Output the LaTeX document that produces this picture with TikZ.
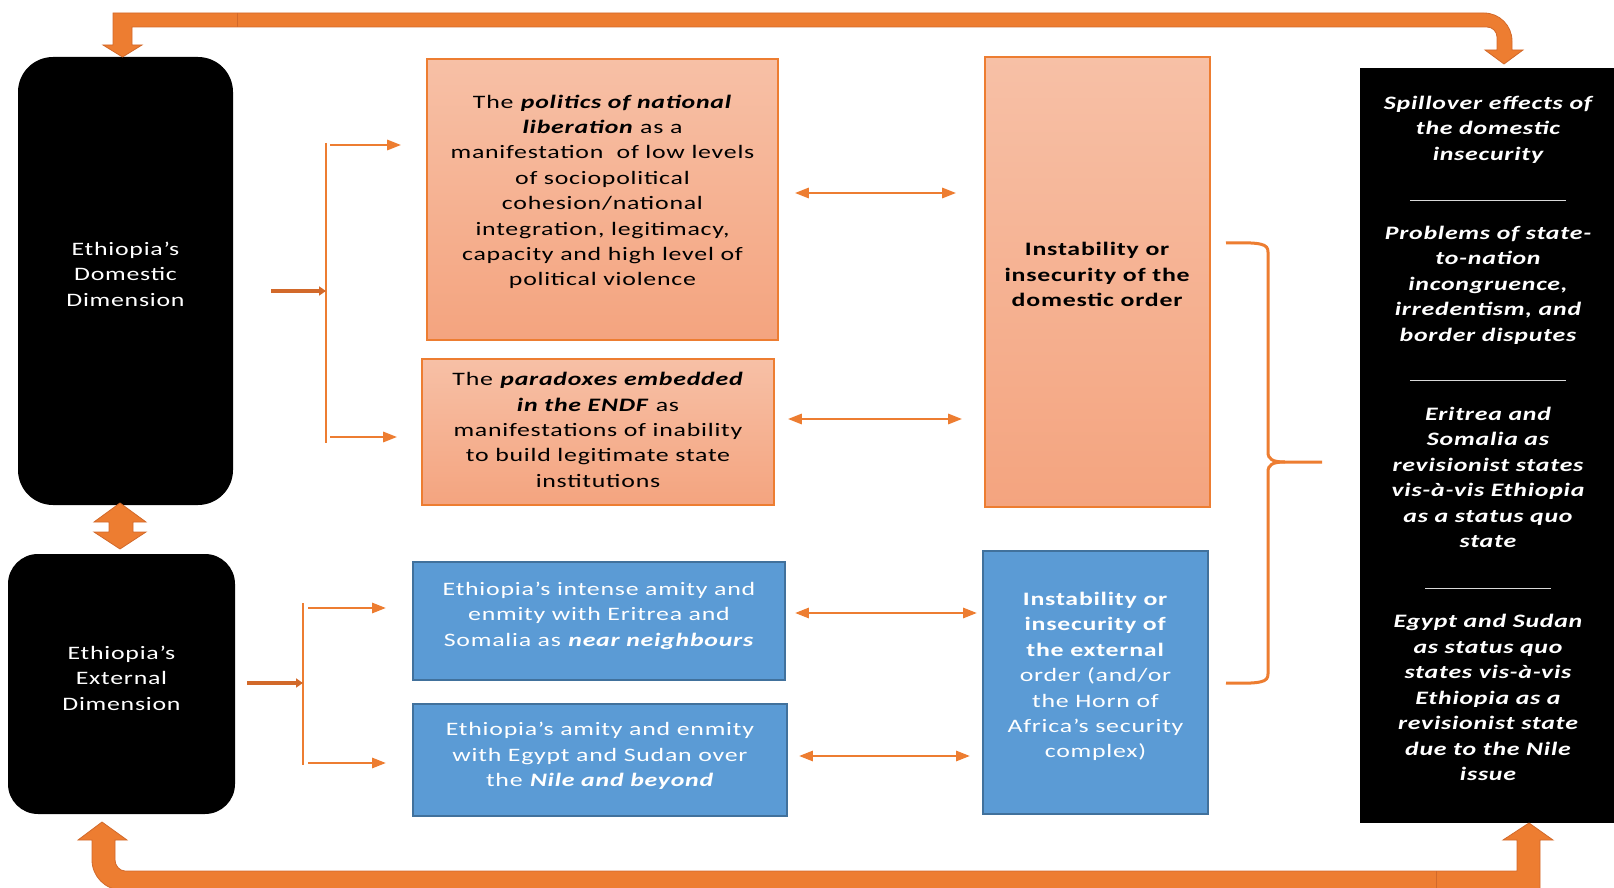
\documentclass[tikz,border=0pt]{standalone}
\usepackage{fontspec}
\setmainfont{Carlito}[FakeStretch=1.36,LetterSpace=4]
\usetikzlibrary{arrows.meta,calc}
\definecolor{orng}{HTML}{ED7D31}
\definecolor{orngD}{HTML}{D2692A}
\definecolor{pinkT}{HTML}{F7C0A6}
\definecolor{pinkB}{HTML}{F4A47F}
\definecolor{blueF}{HTML}{5B9BD5}
\definecolor{blueD}{HTML}{41719C}
\tikzset{
  txt/.style={font=\fontsize{9.5pt}{12.7pt}\selectfont, align=center, inner sep=0pt},
  pinkbox/.style={draw=orng, line width=0.8pt, top color=pinkT, bottom color=pinkB, inner sep=0pt},
  bluebox/.style={draw=blueD, line width=0.9pt, fill=blueF, inner sep=0pt},
  blackbox/.style={fill=black, inner sep=0pt},
  wtxt/.style={txt, text=white},
  thinarrow/.style={draw=orng, line width=1.35pt, -{Triangle[length=7pt,width=5pt]}},
  dblarrow/.style={draw=orng, line width=1.35pt, {Triangle[length=7pt,width=5pt]}-{Triangle[length=7pt,width=5pt]}},
  inarrow/.style={draw=orngD, line width=2pt, -{Triangle[length=3.5pt,width=4.5pt]}},
  bracketline/.style={draw=orng, line width=1.35pt},
  bigarrow/.style={fill=orng, draw=orngD, line width=0.4pt}
}
\newcommand{\bfi}[1]{\textbf{\textit{#1}}}
\begin{document}
\begin{tikzpicture}[x=0.5pt,y=-0.5pt]
\useasboundingbox (0,0) rectangle (1614,888);

% left black boxes
\node[blackbox, rounded corners=17.5pt, minimum width=107.5pt, minimum height=224pt] (d1) at (125.5,281) {};
\node[wtxt] (d1t) at ([yshift=3.5pt]d1.center) {Ethiopia’s\\Domestic\\Dimension};
\node[blackbox, rounded corners=15pt, minimum width=113.5pt, minimum height=130pt] (d2) at (121.5,684) {};
\node[wtxt] (d2t) at ([yshift=3pt]d2.center) {Ethiopia’s\\External\\Dimension};

% middle boxes
\node[pinkbox, minimum width=175.5pt, minimum height=140.5pt] (p1) at (602.5,199.5) {};
\node[txt] (p1t) at ([yshift=3.8pt]p1.center)
  {The \bfi{politics of national}\\ \bfi{liberation} as a\\ manifestation\ \ of low levels\\ of sociopolitical\\ cohesion/national\\ integration,\ legitimacy,\\ capacity\ and high level of\\ political\ violence};
\node[pinkbox, minimum width=176pt, minimum height=73pt] (p2) at (598,432) {};
\node[txt] (p2t) at ([yshift=1pt]p2.center)
  {The \bfi{paradoxes embedded}\\ \bfi{in the ENDF} as\\ manifestations of inability\\ to build legitimate state\\ institutions};
\node[bluebox, minimum width=186pt, minimum height=59pt] (b1) at (599,621) {};
\node[wtxt] (b1t) at ([yshift=2.6pt]b1.center)
  {Ethiopia’s intense amity and\\ enmity with Eritrea and\\ Somalia as \bfi{near neighbours}};
\node[bluebox, minimum width=187pt, minimum height=56pt] (b2) at (600,760) {};
\node[wtxt] (b2t) at ([yshift=2pt]b2.center)
  {Ethiopia’s amity and enmity\\ with Egypt and Sudan over\\ the \bfi{Nile and beyond}};

% tall boxes
\node[pinkbox, minimum width=112.5pt, minimum height=225pt] (t1) at (1097.5,282) {};
\node[txt] (t1t) at ([yshift=3.6pt]t1.center)
  {\textbf{Instability or}\\ \textbf{insecurity of the}\\ \textbf{domestic order}};
\node[bluebox, minimum width=112.5pt, minimum height=131.5pt] (t2) at (1095.5,682.5) {};
\node[wtxt] (t2t) at ([yshift=3pt]t2.center)
  {\textbf{Instability or}\\ \textbf{insecurity of}\\ \textbf{the external}\\ order (and/or\\ the Horn of\\ Africa’s security\\ complex)};

% right black box
\node[blackbox, minimum width=128pt, minimum height=377.5pt] (r) at (1488,445.5) {};
\node[wtxt, font=\fontsize{9.5pt}{12.75pt}\selectfont\bfseries\itshape] (rt) at ([yshift=3.6pt]r.center)
  {Spillover effects of\\ the domestic\\ insecurity\\[7.6pt]
   {\color{white!85!black}\rule{78pt}{0.5pt}}\\[6.6pt]
   Problems of state-\\ to-nation\\ incongruence,\\ irredentism, and\\ border disputes\\[7.2pt]
   {\color{white!85!black}\rule{78pt}{0.5pt}}\\[6.6pt]
   Eritrea and\\ Somalia as\\ revisionist states\\ vis-à-vis Ethiopia\\ as a status quo\\ state\\[8pt]
   {\color{white!85!black}\rule{63pt}{0.5pt}}\\[6.6pt]
   Egypt and Sudan\\ as status quo\\ states vis-à-vis\\ Ethiopia as a\\ revisionist state\\ due to the Nile\\ issue};

% left bracket group 1
\coordinate (k1t) at (326,143);
\coordinate (k1b) at (326,443);
\coordinate (k1m) at (326,291);
\coordinate (a1) at (330,145);
\coordinate (a2) at (330,437);
\draw[bracketline] (k1t) -- (k1b);
\draw[inarrow, shorten <=19pt] ([yshift=-5pt]d1.east) -- (k1m);
\draw[thinarrow, shorten >=12.5pt] (a1) -- (a1 -| p1.west);
\draw[thinarrow, shorten >=12pt] (a2) -- (a2 -| p2.west);

% left bracket group 2
\coordinate (k2t) at (303,603);
\coordinate (k2b) at (303,765);
\coordinate (k2m) at (303,683);
\coordinate (a3) at (308,608);
\coordinate (a4) at (308,763);
\draw[bracketline] (k2t) -- (k2b);
\draw[inarrow, shorten <=6pt] ([yshift=0.5pt]d2.east) -- (k2m);
\draw[thinarrow, shorten >=13pt] (a3) -- (a3 -| b1.west);
\draw[thinarrow, shorten >=13pt] (a4) -- (a4 -| b2.west);

% double arrows between columns
\draw[dblarrow, shorten <=8pt, shorten >=14pt] ([yshift=3.25pt]p1.east) -- ([yshift=3.25pt]p1.east -| t1.west);
\draw[dblarrow, shorten <=6.5pt, shorten >=11pt] ([yshift=6.5pt]p2.east) -- ([yshift=6.5pt]p2.east -| t1.west);
\draw[dblarrow, shorten <=4.5pt, shorten >=2.5pt] ([yshift=4pt]b1.east) -- ([yshift=4pt]b1.east -| t2.west);
\draw[dblarrow, shorten <=5.5pt, shorten >=6pt] ([yshift=2pt]b2.east) -- ([yshift=2pt]b2.east -| t2.west);

% right brace
\coordinate (brT) at (1226,243);
\coordinate (brB) at (1226,683);
\coordinate (brM) at (1322,462);
\draw[bracketline, line width=1.5pt] (brT) .. controls (1262,242) and (1268,244) .. (1268,252) -- (1268,452)
   .. controls (1268,459) and (1272,462) .. (1285,462) -- (brM);
\draw[bracketline, line width=1.5pt] (brB) .. controls (1262,684) and (1268,682) .. (1268,674) -- (1268,472)
   .. controls (1268,465) and (1272,462) .. (1285,462);

% top bent arrow
\draw[bigarrow] (122.5,57) -- (142,45) -- (132,45) -- (132,27) -- (1487,27)
   .. controls (1492.5,27) and (1497,31.5) .. (1497,37) -- (1497,50) -- (1485,50) -- (1504,64)
   -- (1523,50) -- (1512,50) -- (1512,41) .. controls (1512,25.5) and (1499.5,13) .. (1484,13)
   -- (113,13) -- (113,45) -- (103,45) -- cycle;
\draw[orngD, line width=0.4pt] (237,13) -- (237,27);

% bottom bent arrow
\draw[bigarrow] (102,822) -- (127,840) -- (115,840) -- (115,860)
   .. controls (115,865.5) and (119.5,871) .. (125,871) -- (1517,871) -- (1517,840) -- (1503,840)
   -- (1529,823) -- (1553,840) -- (1540,840) -- (1540,890) -- (122,890)
   .. controls (105,890) and (92,876) .. (92,860) -- (92,840) -- (78,840) -- cycle;
\draw[orngD, line width=0.4pt] (1436,871) -- (1436,888);

% double block arrow between the two dimensions
\draw[bigarrow] (120,503) -- (146,522) -- (133,522) -- (133,532) -- (146,532) -- (120,549)
   -- (94,532) -- (109,532) -- (109,522) -- (94,522) -- cycle;
\end{tikzpicture}
\end{document}
